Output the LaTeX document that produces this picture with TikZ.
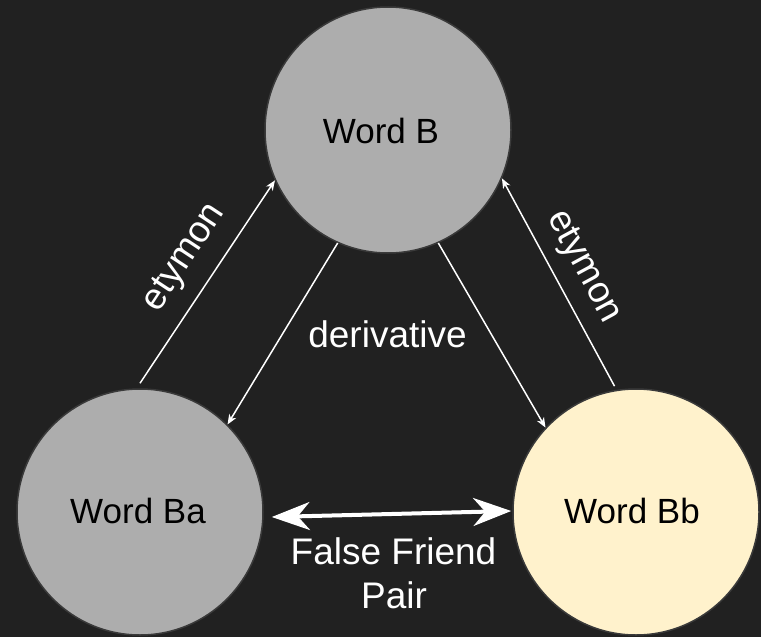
\documentclass[tikz,border=0pt]{standalone}
\usepackage{fontspec}
\setmainfont{Liberation Sans}
\usetikzlibrary{arrows.meta}
\definecolor{bg}{HTML}{212121}
\definecolor{wordgray}{HTML}{ADADAD}
\definecolor{wordcream}{HTML}{FFF2CC}
\definecolor{rim}{HTML}{3A3A3A}
\begin{document}
\begin{tikzpicture}[x=1pt,y=-1pt,
  word/.style={circle, minimum size=246pt, inner sep=0pt, draw=rim, line width=1.5pt},
  wordtext/.style={anchor=base, inner sep=0pt, text=black, font=\fontsize{35}{42}\selectfont},
  rel/.style={draw=white, line width=1.5pt,
    -{Stealth[length=10pt, width=8pt, inset=3pt]}},
  pairlink/.style={draw=white, line width=4pt,
    {Stealth[length=38pt, width=28pt, inset=12pt]}-{Stealth[length=38pt, width=28pt, inset=12pt]}},
  lbl/.style={text=white, font=\fontsize{37}{44}\selectfont, inner sep=0pt}]
  \fill[bg] (0,0) rectangle (761,637);
  \useasboundingbox (0,0) rectangle (761,637);

  % the three words
  \node[word, fill=wordgray]  (B)  at (388,130) {};
  \node[word, fill=wordgray]  (Ba) at (140,512) {};
  \node[word, fill=wordcream] (Bb) at (636,512) {};
  \node[wordtext] (tB)  at (381,143) {Word B};
  \node[wordtext] (tBa) at (138,523) {Word Ba};
  \node[wordtext] (tBb) at (632,523) {Word Bb};

  % etymon links
  \draw[rel] ([yshift=5pt]Ba.90) -- (B.204);
  \draw[rel] ([yshift=4pt]Bb.100) -- (B.-23);

  % derivative links
  \draw[rel] (B.246) -- (Ba.45);
  \draw[rel] (B.294) -- (Bb.137);

  % false friend pair
  \coordinate (pa) at ([xshift=8pt,yshift=-5pt]Ba.east);
  \coordinate (pb) at ([xshift=-1pt,yshift=1pt]Bb.west);
  \draw[pairlink] (pa) -- (pb);

  % labels
  \node[lbl, rotate=56.6] (ety1) at (185,258) {etymon};
  \node[lbl, rotate=-61.6] (ety2) at (583,267) {etymon};
  \node[lbl, anchor=base] (der) at (387.5,347) {derivative};
  \node[lbl, anchor=base] (ff1) at (393.5,564) {False Friend};
  \node[lbl, anchor=base] (ff2) at (394,608) {Pair};
\end{tikzpicture}
\end{document}
